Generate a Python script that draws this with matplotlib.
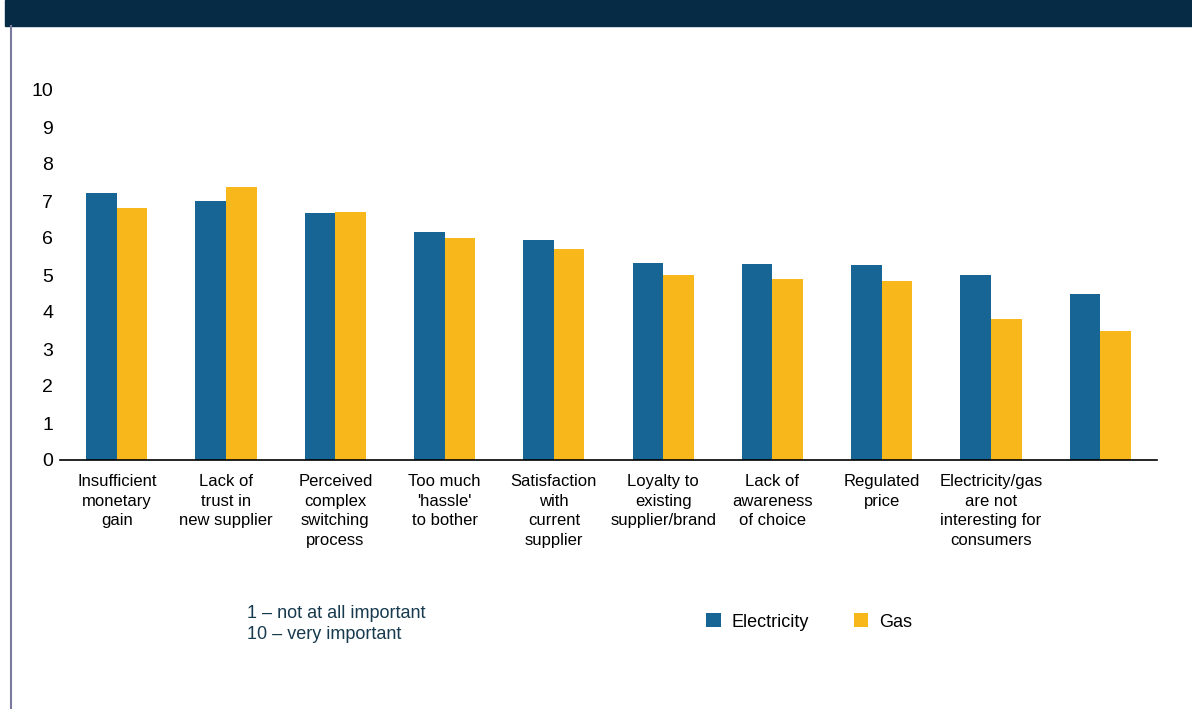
import numpy as np
import matplotlib
matplotlib.use("Agg")
import matplotlib.pyplot as plt
from matplotlib.patches import Rectangle

plt.rcParams['font.family'] = ['Liberation Sans Narrow', 'Liberation Sans', 'DejaVu Sans']

categories = [
    "Insufficient\nmonetary\ngain",
    "Lack of\ntrust in\nnew supplier",
    "Perceived\ncomplex\nswitching\nprocess",
    "Too much\n'hassle'\nto bother",
    "Satisfaction\nwith\ncurrent\nsupplier",
    "Loyalty to\nexisting\nsupplier/brand",
    "Lack of\nawareness\nof choice",
    "Regulated\nprice",
    "Electricity/gas\nare not\ninteresting for\nconsumers",
    "",
]
electricity = [7.22, 7.0, 6.68, 6.17, 5.95, 5.32, 5.30, 5.27, 5.0, 4.5]
gas = [6.8, 7.38, 6.70, 6.0, 5.70, 5.0, 4.89, 4.84, 3.8, 3.5]

elec_color = "#176594"
gas_color = "#F8B81B"
navy = "#062C45"

fig = plt.figure(figsize=(11.92, 7.09), dpi=100)

# dark banner at the top and left frame line
fig.patches.append(Rectangle((5 / 1192, 1 - 26 / 709), 1, 26 / 709,
                             transform=fig.transFigure, color=navy, zorder=0))
fig.lines.append(plt.Line2D([11 / 1192, 11 / 1192], [0, 1 - 26 / 709],
                            transform=fig.transFigure, color="#7a7aa0", lw=1.5))

ax = fig.add_axes([60 / 1192, 1 - 460 / 709, 1097 / 1192, 370 / 709])
x = np.arange(len(categories))
w = 0.28
ax.bar(x - w / 2, electricity, w, color=elec_color, label="Electricity")
ax.bar(x + w / 2, gas, w, color=gas_color, label="Gas")

ax.set_xlim(-0.52, 9.52)
ax.set_ylim(0, 10)
ax.set_yticks(range(0, 11))
ax.tick_params(axis="y", length=0, labelsize=14, pad=5)
ax.tick_params(axis="x", length=0, labelsize=12, pad=10)
ax.set_xticks(x)
ax.set_xticklabels(categories, linespacing=1.4)
for side in ["top", "right", "left"]:
    ax.spines[side].set_visible(False)
ax.spines["bottom"].set_color("black")
ax.spines["bottom"].set_linewidth(1.2)

fig.text(247 / 1192, 1 - 624 / 709, "1 \u2013 not at all important\n10 \u2013 very important",
         fontsize=13, color="#173a4e", va="center", linespacing=1.3)

ax.legend(loc="center left", bbox_to_anchor=(690 / 1192, 1 - 622 / 709),
          bbox_transform=fig.transFigure, ncol=2, frameon=False, fontsize=13,
          handlelength=0.8, handleheight=0.8, columnspacing=2.5, handletextpad=0.6)

fig.savefig("out.png", dpi=100)
